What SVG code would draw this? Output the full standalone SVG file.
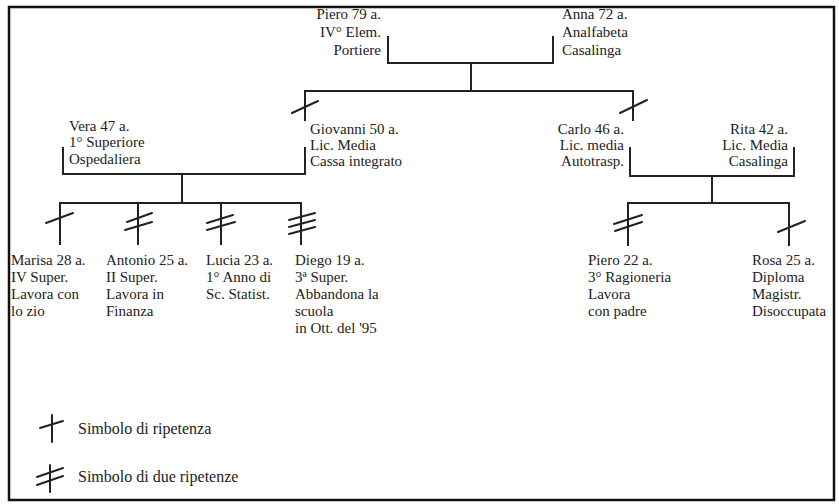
<svg xmlns="http://www.w3.org/2000/svg" width="839" height="504" viewBox="0 0 839 504">
<style>
text{font-family:"Liberation Serif","DejaVu Serif",serif;font-size:15px;fill:#222}
.r{text-anchor:end}
.ln{fill:none;stroke:#222;stroke-width:2;stroke-linecap:square}
.tk{fill:none;stroke:#222;stroke-width:2;stroke-linecap:round}
.leg{font-size:16px}
</style>
<rect x="0" y="0" width="839" height="504" fill="#fff"/>
<rect x="9" y="7" width="825" height="493" fill="none" stroke="#111" stroke-width="2.5"/>
<g id="connectors">
<path class="ln" d="M388,37 V63 H553 V37 M471,63 V91 M305,91 H633 M305,91 V120 M633,91 V120"/>
<path class="ln" d="M63,148 V174 H305 V148 M182,174 V203 M60,203 H301 M60,203 V244 M138,203 V244 M221,203 V244 M301,203 V244"/>
<path class="ln" d="M630,148 V176 H794 V148 M712,176 V203 M628,203 H789 M628,203 V245 M789,203 V245"/>
<path class="tk" d="M292,113 L318,101 M620,113 L647,100"/>
<path class="tk" d="M46,223 L73,213"/>
<path class="tk" d="M127,222 L152,213 M125,230 L152,222"/>
<path class="tk" d="M207,223 L233,215 M207,230 L235,222"/>
<path class="tk" d="M289,220 L315,213 M289,227 L315,220 M289,234 L315,227"/>
<path class="tk" d="M614,224 L642,215 M615,231 L642,222"/>
<path class="tk" d="M778,232 L805,221"/>
</g>
<g id="piero79"><text class="r" x="381" y="19">Piero 79 a.</text><text class="r" x="381" y="37">IV° Elem.</text><text class="r" x="381" y="55">Portiere</text></g>
<g id="anna"><text x="562" y="19">Anna 72 a.</text><text x="562" y="37">Analfabeta</text><text x="562" y="55">Casalinga</text></g>
<g id="vera"><text x="69" y="131">Vera 47 a.</text><text x="69" y="147">1° Superiore</text><text x="69" y="164">Ospedaliera</text></g>
<g id="giovanni"><text x="310" y="134">Giovanni 50 a.</text><text x="310" y="150">Lic. Media</text><text x="310" y="166">Cassa integrato</text></g>
<g id="carlo"><text class="r" x="624" y="134">Carlo 46 a.</text><text class="r" x="624" y="150">Lic. media</text><text class="r" x="624" y="166">Autotrasp.</text></g>
<g id="rita"><text class="r" x="788" y="134">Rita 42 a.</text><text class="r" x="788" y="150">Lic. Media</text><text class="r" x="788" y="166">Casalinga</text></g>
<g id="marisa"><text x="11" y="265">Marisa 28 a.</text><text x="11" y="282">IV Super.</text><text x="11" y="299">Lavora con</text><text x="11" y="316">lo zio</text></g>
<g id="antonio"><text x="106" y="265">Antonio 25 a.</text><text x="106" y="282">II Super.</text><text x="106" y="299">Lavora in</text><text x="106" y="316">Finanza</text></g>
<g id="lucia"><text x="206" y="265">Lucia 23 a.</text><text x="206" y="282">1° Anno di</text><text x="206" y="299">Sc. Statist.</text></g>
<g id="diego"><text x="295" y="265">Diego 19 a.</text><text x="295" y="282">3ª Super.</text><text x="295" y="299">Abbandona la</text><text x="295" y="316">scuola</text><text x="295" y="333">in Ott. del '95</text></g>
<g id="piero22"><text x="588" y="265">Piero 22 a.</text><text x="588" y="282">3° Ragioneria</text><text x="588" y="299">Lavora</text><text x="588" y="316">con padre</text></g>
<g id="rosa"><text x="752" y="265">Rosa 25 a.</text><text x="752" y="282">Diploma</text><text x="752" y="299">Magistr.</text><text x="752" y="316">Disoccupata</text></g>
<g id="legend">
<path class="tk" d="M52,415 V442 M40,428 L63,421"/>
<path class="tk" d="M50,465 V492 M37,477 L63,468 M37,485 L63,476"/>
<text class="leg" x="78" y="434">Simbolo di ripetenza</text>
<text class="leg" x="78" y="482">Simbolo di due ripetenze</text>
</g>
</svg>
